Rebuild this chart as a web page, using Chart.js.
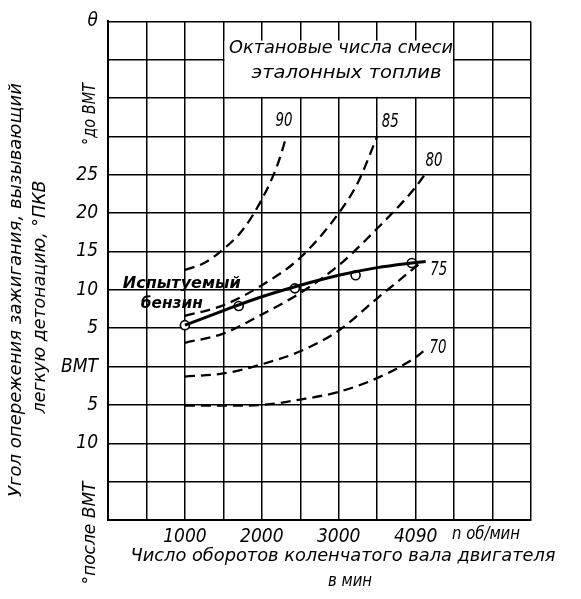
<!DOCTYPE html>
<html><head><meta charset="utf-8">
<script src="https://cdn.jsdelivr.net/npm/chart.js@4/dist/chart.umd.min.js"></script>
<style>html,body{margin:0;padding:0;background:#fff;}#wrap{position:relative;width:581px;height:599px;}</style>
</head><body><div id="wrap"><canvas id="c" width="581" height="599"></canvas></div>
<script>
// ---- tick labels ----
const xTickValues = [1000, 2000, 3000, 4000];
const xTickLabels = ['1000', '2000', '3000', '4090'];
const yTickValues = [45, 25, 20, 15, 10, 5, 0, -5, -10];
const yTickLabels = ['θ', '25', '20', '15', '10', '5', 'ВМТ', '5', '10'];

// ---- reference fuel curves (octane number of the blend) ----
const octaneLabels = ['90', '85', '80', '75', '70'];
const rpm90 = [1000, 1250, 1500, 1750, 2000, 2200, 2320];
const adv90 = [12.6, 13.5, 15.3, 17.8, 21.8, 26.2, 30.0];
const rpm85 = [1000, 1500, 2000, 2500, 3000, 3250, 3500];
const adv85 = [6.6, 8.0, 10.6, 14.2, 20.0, 24.0, 30.0];
const rpm80 = [1000, 1500, 2000, 2500, 3000, 3500, 4000, 4130];
const adv80 = [3.1, 4.3, 6.8, 9.6, 13.2, 18.0, 23.4, 25.2];
const rpm75 = [1000, 1500, 2000, 2500, 3000, 3500, 4000, 4060];
const adv75 = [-1.3, -0.9, 0.3, 2.0, 4.7, 8.9, 13.0, 13.5];
const rpm70 = [1000, 1500, 2000, 2500, 3000, 3500, 4000, 4100];
const adv70 = [-5.1, -5.1, -5.0, -4.3, -3.3, -1.5, 1.2, 2.0];

// ---- tested gasoline ----
const testRpmCurve = [1000, 1500, 2000, 2500, 3000, 3500, 3950, 4130];
const testAdvCurve = [5.4, 7.3, 9.1, 10.6, 11.9, 12.9, 13.5, 13.7];
const testRpmPoints = [1000, 1700, 2430, 3220, 3950];
const testAdvPoints = [5.4, 7.9, 10.2, 11.9, 13.5];

// ---- label anchors (data coordinates) ----
const curveLabelRpm = [2290, 3670, 4240, 4300, 4290];
const curveLabelAdv = [32.0, 31.9, 26.8, 12.6, 2.4];

const FONT = "'DejaVu Sans', sans-serif";
const NARROW = "'Liberation Sans Narrow', 'DejaVu Sans Condensed', 'Liberation Sans', sans-serif";

function pts(xs, ys) { return xs.map((x, i) => ({ x: x, y: ys[i] })); }

function dashed(xs, ys) {
  return {
    data: pts(xs, ys), borderColor: '#000', borderWidth: 2.3, borderDash: [10, 6],
    pointRadius: 0, cubicInterpolationMode: 'monotone', fill: false
  };
}

function fitText(ctx, text, cx, cy, w, size, opts) {
  opts = opts || {};
  ctx.save();
  ctx.font = (opts.bold ? 'bold ' : '') + 'italic ' + size + 'px ' + (opts.family || FONT);
  ctx.textAlign = 'center';
  ctx.textBaseline = 'middle';
  ctx.translate(cx, cy);
  if (opts.rot) ctx.rotate(opts.rot);
  const m = ctx.measureText(text).width;
  if (w) ctx.scale(w / m, 1);
  ctx.fillStyle = '#000';
  ctx.fillText(text, 0, 0);
  ctx.restore();
}

const annot = {
  id: 'annot',
  beforeDatasetsDraw(chart) {
    const { ctx, scales: { x, y } } = chart;
    const l = x.getPixelForValue(1500) + 1.2, r = x.getPixelForValue(4500) - 1.2;
    const t = y.getPixelForValue(42.5), b = y.getPixelForValue(35) - 1.2;
    ctx.save();
    ctx.fillStyle = '#fff';
    ctx.fillRect(l, t, r - l, b - t);
    ctx.restore();
  },
  afterDraw(chart) {
    const { ctx, scales: { x, y } } = chart;
    fitText(ctx, 'Октановые числа смеси', x.getPixelForValue(3030), y.getPixelForValue(41.4), 224, 17);
    fitText(ctx, 'эталонных топлив', x.getPixelForValue(3100), y.getPixelForValue(38.2), 190, 17);
    octaneLabels.forEach((s, i) => {
      fitText(ctx, s, x.getPixelForValue(curveLabelRpm[i]), y.getPixelForValue(curveLabelAdv[i]), 17, 19, { family: NARROW });
    });
    fitText(ctx, 'Испытуемый', x.getPixelForValue(960), y.getPixelForValue(10.8), 118, 16, { bold: true });
    fitText(ctx, 'бензин', x.getPixelForValue(830), y.getPixelForValue(8.2), 62, 16, { bold: true });
    // axis titles
    const R = -Math.PI / 2;
    fitText(ctx, 'Угол опережения зажигания, вызывающий', 17, 290, 414, 17, { rot: R });
    fitText(ctx, 'легкую детонацию, °ПКВ', 41, 297, 233, 17, { rot: R });
    fitText(ctx, '°до ВМТ', 91, 114, 62, 17, { rot: R });
    fitText(ctx, '°после ВМТ', 91, 533, 103, 17, { rot: R });
    fitText(ctx, 'Число оборотов коленчатого вала двигателя', 343, 557, 425, 17);
    fitText(ctx, 'в мин', 350, 582, 44, 17);
    fitText(ctx, 'n об/мин', 486, 534, 68, 18);
  }
};

new Chart(document.getElementById('c'), {
  type: 'line',
  data: {
    datasets: [
      dashed(rpm90, adv90), dashed(rpm85, adv85), dashed(rpm80, adv80),
      dashed(rpm75, adv75), dashed(rpm70, adv70),
      { data: pts(testRpmCurve, testAdvCurve), borderColor: '#000', borderWidth: 3,
        pointRadius: 0, cubicInterpolationMode: 'monotone', fill: false },
      { type: 'scatter', data: pts(testRpmPoints, testAdvPoints), showLine: false,
        pointRadius: 4.5, pointBackgroundColor: '#fff', pointBorderColor: '#000', pointBorderWidth: 1.6 }
    ]
  },
  options: {
    responsive: false, animation: false, devicePixelRatio: 1,
    layout: { padding: { top: 13, right: 50, left: 0, bottom: 0 } },
    plugins: { legend: { display: false }, tooltip: { enabled: false } },
    scales: {
      x: {
        type: 'linear', min: 0, max: 5500,
        afterFit(s) { s.height = 79; },
        afterBuildTicks(s) { s.ticks = []; for (let v = 0; v <= 5500; v += 500) s.ticks.push({ value: v }); },
        grid: { color: '#000', lineWidth: 1.5, drawTicks: false },
        border: { color: '#000', width: 2 },
        ticks: {
          color: '#000', padding: 6, maxRotation: 0, autoSkip: false,
          font: { family: NARROW, size: 19, style: 'italic' },
          callback(v) { const i = xTickValues.indexOf(v); return i >= 0 ? xTickLabels[i] : ''; }
        }
      },
      y: {
        type: 'linear', min: -20, max: 45,
        afterFit(s) { s.width = 108; },
        afterBuildTicks(s) { s.ticks = []; for (let v = -20; v <= 45; v += 5) s.ticks.push({ value: v }); },
        grid: { color: '#000', lineWidth: 1.5, drawTicks: false },
        border: { color: '#000', width: 2 },
        ticks: {
          color: '#000', padding: 10, autoSkip: false,
          font: { family: NARROW, size: 19, style: 'italic' },
          callback(v) { const i = yTickValues.indexOf(v); return i >= 0 ? yTickLabels[i] : ''; }
        }
      }
    }
  },
  plugins: [annot]
});
</script>
</body></html>
